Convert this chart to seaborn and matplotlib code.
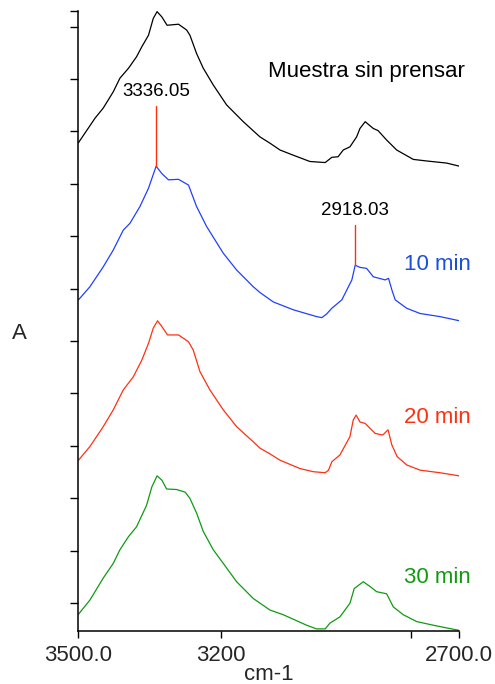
import numpy as np
import matplotlib
matplotlib.use("Agg")
import matplotlib.pyplot as plt
import seaborn as sns

# wavenumbers (cm-1) and absorbance (offset, arbitrary units)
wn_sin = [3499, 3464, 3447, 3426, 3412, 3394, 3377, 3366, 3352, 3342, 3334, 3324,
          3313, 3289, 3272, 3265, 3251, 3237, 3216, 3188, 3153, 3118, 3097, 3076,
          3048, 3013, 2981, 2967, 2954, 2943, 2929, 2915, 2908, 2897, 2880, 2870,
          2852, 2831, 2796, 2768, 2726, 2699]
a_sin = [9.32, 9.79, 9.98, 10.29, 10.55, 10.74, 10.96, 11.15, 11.37, 11.69, 11.82, 11.72,
         11.56, 11.58, 11.47, 11.37, 11.02, 10.74, 10.42, 10.04, 9.72, 9.43, 9.31, 9.18,
         9.08, 8.96, 8.94, 9.04, 9.05, 9.18, 9.24, 9.43, 9.59, 9.72, 9.59, 9.55,
         9.37, 9.18, 9.00, 8.97, 8.93, 8.87]

wn_10 = [3499, 3475, 3447, 3426, 3405, 3391, 3370, 3352, 3336, 3324, 3310, 3289,
         3268, 3251, 3230, 3195, 3167, 3132, 3118, 3090, 3048, 2999, 2988, 2978,
         2967, 2946, 2925, 2918, 2908, 2894, 2880, 2855, 2848, 2841, 2834, 2810,
         2782, 2740, 2699]
a_10 = [6.32, 6.57, 6.95, 7.27, 7.65, 7.78, 8.10, 8.45, 8.87, 8.73, 8.61, 8.62,
        8.51, 8.10, 7.72, 7.21, 6.89, 6.57, 6.46, 6.28, 6.13, 6.00, 5.98, 6.05,
        6.16, 6.32, 6.70, 6.98, 6.94, 6.92, 6.76, 6.70, 6.73, 6.51, 6.32, 6.16,
        6.06, 6.00, 5.92]

wn_20 = [3499, 3475, 3447, 3426, 3405, 3384, 3366, 3352, 3342, 3333, 3324, 3312,
         3289, 3268, 3258, 3244, 3223, 3195, 3167, 3132, 3118, 3097, 3076, 3034,
         3006, 2981, 2974, 2967, 2950, 2929, 2922, 2916, 2908, 2897, 2876, 2860,
         2849, 2841, 2830, 2810, 2782, 2740, 2699]
a_20 = [3.26, 3.52, 3.90, 4.22, 4.60, 4.85, 5.17, 5.49, 5.78, 5.92, 5.81, 5.65,
        5.65, 5.52, 5.36, 4.95, 4.60, 4.22, 3.90, 3.61, 3.49, 3.38, 3.26, 3.10,
        3.04, 3.02, 3.07, 3.23, 3.36, 3.71, 4.03, 4.12, 3.99, 3.96, 3.77, 3.74,
        3.84, 3.55, 3.33, 3.17, 3.07, 3.02, 2.96]

wn_30 = [3499, 3475, 3447, 3426, 3412, 3394, 3377, 3356, 3345, 3334, 3324, 3314,
         3293, 3275, 3265, 3251, 3237, 3216, 3195, 3167, 3132, 3097, 3069, 3020,
         2999, 2981, 2971, 2950, 2929, 2920, 2901, 2887, 2873, 2852, 2838, 2817,
         2789, 2754, 2699]
a_30 = [0.32, 0.59, 1.01, 1.29, 1.55, 1.80, 1.99, 2.40, 2.75, 2.96, 2.88, 2.71,
        2.70, 2.65, 2.53, 2.25, 1.90, 1.55, 1.29, 0.94, 0.62, 0.40, 0.31, 0.11,
        0.04, 0.04, 0.15, 0.27, 0.53, 0.81, 0.94, 0.85, 0.75, 0.71, 0.46, 0.31,
        0.18, 0.11, 0.01]

names = ["Muestra sin prensar", "10 min", "20 min", "30 min"]
curves = [(wn_sin, a_sin), (wn_10, a_10), (wn_20, a_20), (wn_30, a_30)]
line_colors = ["black", "#2040ff", "#ff3010", "#109a10"]
text_colors = ["black", "#1a4fd8", "#ff3010", "#109a10"]
label_x = [3101, 2815, 2815, 2815]
label_y = [10.67, 7.0, 4.08, 1.03]

peaks = [3336.05, 2918.03]
peak_top = [10.02, 7.75]
peak_base = [8.87, 6.98]

sns.set_style("white")
plt.rcParams['font.family'] = ['Liberation Sans', 'DejaVu Sans']

fig = plt.figure(figsize=(4.95, 6.84), dpi=100)
ax = fig.add_axes([0.1576, 0.0775, 0.7697, 0.9064])

for (wn, a), name, lc, tc, lx, ly in zip(curves, names, line_colors, text_colors,
                                          label_x, label_y):
    sns.lineplot(x=wn, y=a, color=lc, linewidth=0.9, ax=ax,
                 estimator=None, sort=False)
    ax.text(lx, ly, name, color=tc, fontsize=16, ha="left", va="center")

for p, top, base in zip(peaks, peak_top, peak_base):
    ax.plot([p, p], [base, top], color="#ff3010", linewidth=1.0)
    ax.text(p, top + 0.12, f"{p:.2f}", fontsize=13.5, ha="center", va="bottom",
            color="black")

ax.set_xlim(3500, 2700)
ax.set_ylim(0, 11.832)
ax.set_xticks([3500, 3200, 2800, 2700])
ax.set_xticklabels(["3500.0", "3200", "", "2700.0"], fontsize=16)
yt = [0.534 + k for k in range(12)] + [11.832]
ax.set_yticks(yt)
ax.set_yticklabels([])
ax.tick_params(axis="x", bottom=True, direction="out", length=5, width=1,
               pad=5, color="black")
ax.tick_params(axis="y", left=True, direction="out", length=6, width=1,
               color="black")
ax.set_xlabel("cm-1", fontsize=16, labelpad=-1)
ax.set_ylabel("A", fontsize=16, rotation=0, va="center", ha="center")
ax.yaxis.set_label_coords(-0.155, 0.48)

for s in ["top", "right"]:
    ax.spines[s].set_visible(False)
for s in ["left", "bottom"]:
    ax.spines[s].set_linewidth(1.1)
    ax.spines[s].set_color("black")

fig.savefig("out.png", dpi=100)
